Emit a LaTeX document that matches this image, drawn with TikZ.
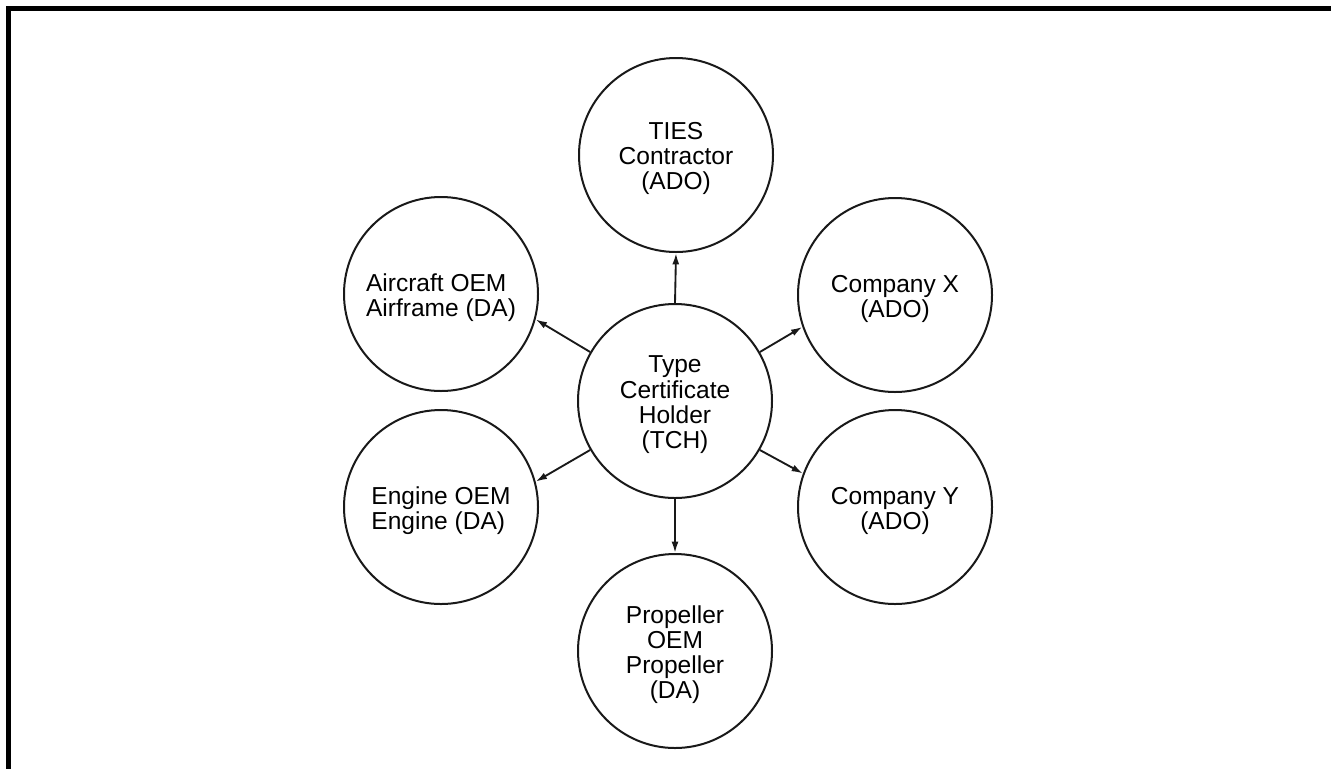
\documentclass[tikz,border=0pt]{standalone}
\usepackage{fontspec}
\setmainfont{Liberation Sans}
\usetikzlibrary{arrows.meta}
% stacked labels, lowered slightly inside their circles
\newcommand{\ctext}[1]{\raisebox{-3.6pt}[\height][\depth]{\begin{tabular}{@{}c@{}}#1\end{tabular}}}
\newcommand{\ltext}[1]{\raisebox{-3.6pt}[\height][\depth]{\begin{tabular}{@{}l@{}}#1\end{tabular}}}
\begin{document}
\begin{tikzpicture}[x=0.75pt,y=-0.75pt,
  party/.style={draw=black!90,line width=1.5pt,circle,minimum size=145.5pt,
    inner sep=0pt,font=\fontsize{18.4}{18.5}\selectfont,text=black},
  link/.style={draw=black!90,line width=1.4pt,
    -{Latex[length=8.5pt,width=5.2pt]}}]
\useasboundingbox (0,0) rectangle (1331,769);
% open frame: top and left rules
\fill (6,6) rectangle (1331,11);
\fill (6,6) rectangle (11,769);
% parties
\node[party] (tch) at (675,401) {\ctext{Type\\Certificate\\Holder\\(TCH)}};
\node[party] (ties) at (676,155) {\ctext{TIES\\Contractor\\(ADO)}};
\node[party] (air) at (441,294) {\ltext{Aircraft OEM\\Airframe (DA)}};
\node[party] (eng) at (441,507) {\ltext{Engine OEM\\Engine (DA)}};
\node[party] (cx) at (895,295) {\ctext{Company X\\(ADO)}};
\node[party] (cy) at (895,507) {\ctext{Company Y\\(ADO)}};
\node[party] (prop) at (675,651) {\ctext{Propeller\\OEM\\Propeller\\(DA)}};
% links from the type certificate holder
\draw[link] (tch.north) -- (ties.south);
\draw[link] (tch.south) -- (prop.north);
\draw[link] (tch.150) -- (air.-15.6);
\draw[link] (tch.210) -- (eng.15.1);
\draw[link] (tch.30) -- (cx.199.3);
\draw[link] (tch.-30) -- (cy.160.7);
\end{tikzpicture}
\end{document}
